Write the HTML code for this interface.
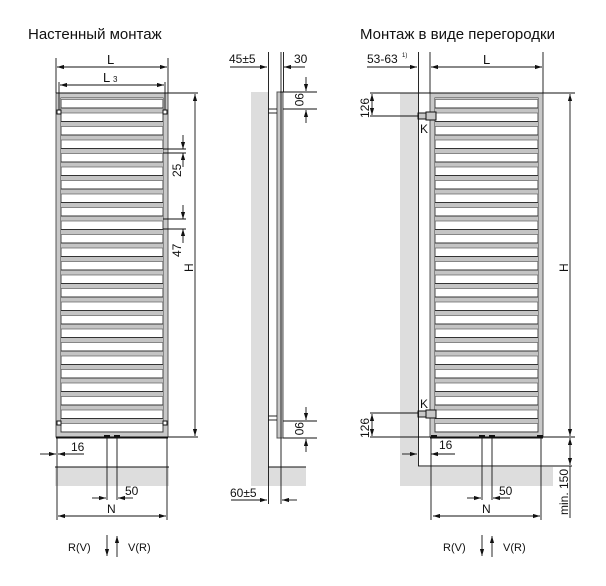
<!DOCTYPE html>
<html><head><meta charset="utf-8"><style>
body{margin:0;background:#fff}
svg{display:block}
text{font-family:"Liberation Sans",sans-serif;fill:#111}
</style></head><body>
<svg width="606" height="586" viewBox="0 0 606 586" xmlns="http://www.w3.org/2000/svg">
<defs>
<pattern id="barsL" patternUnits="userSpaceOnUse" x="0" y="104" width="606" height="13.5">
<rect x="0" y="4" width="606" height="5" fill="#c4c4c4"/>
<line x1="0" y1="4" x2="606" y2="4" stroke="#333" stroke-width="1"/>
<line x1="0" y1="9" x2="606" y2="9" stroke="#666" stroke-width="0.8"/>
</pattern>
<marker id="a" viewBox="0 0 10 6" refX="10" refY="3" markerWidth="8" markerHeight="5" orient="auto-start-reverse"><path d="M0,0L10,3L0,6z" fill="#111"/></marker>
</defs>
<text x="28" y="39" font-size="15">Настенный монтаж</text>
<text x="360" y="39" font-size="15">Монтаж в виде перегородки</text>

<!-- LEFT -->
<rect x="55" y="467" width="114" height="19" fill="#ddd"/>
<line x1="55" y1="467" x2="169" y2="467" stroke="#111"/>
<rect x="56" y="93" width="112" height="344" fill="#c8c8c8" stroke="#555"/>
<rect x="61" y="98" width="102" height="334" fill="#fff" stroke="#444"/>
<rect x="61" y="98" width="102" height="334" fill="url(#barsL)"/>
<rect x="57" y="110" width="4" height="4" fill="#fff" stroke="#111"/>
<rect x="163" y="110" width="4" height="4" fill="#fff" stroke="#111"/>
<rect x="57" y="421" width="4" height="4" fill="#fff" stroke="#111"/>
<rect x="163" y="421" width="4" height="4" fill="#fff" stroke="#111"/>
<line x1="56" y1="437.5" x2="168" y2="437.5" stroke="#111" stroke-width="2"/>
<g stroke="#111" stroke-width="0.9" fill="none">
<line x1="56" y1="58" x2="56" y2="93"/><line x1="168" y1="58" x2="168" y2="93"/>
<line x1="57" y1="67" x2="167" y2="67" marker-start="url(#a)" marker-end="url(#a)"/>
<line x1="59" y1="82" x2="59" y2="110"/><line x1="165" y1="82" x2="165" y2="110"/>
<line x1="60" y1="85" x2="164" y2="85" marker-start="url(#a)" marker-end="url(#a)"/>
<line x1="56" y1="93" x2="198" y2="93"/><line x1="168" y1="437" x2="198" y2="437"/>
<line x1="195" y1="94" x2="195" y2="436" marker-start="url(#a)" marker-end="url(#a)"/>
<line x1="163" y1="149" x2="186" y2="149"/><line x1="163" y1="153" x2="186" y2="153"/>
<line x1="183" y1="135" x2="183" y2="149" marker-end="url(#a)"/><line x1="183" y1="167" x2="183" y2="153" marker-end="url(#a)"/>
<line x1="163" y1="219" x2="186" y2="219"/><line x1="163" y1="229" x2="186" y2="229"/>
<line x1="183" y1="205" x2="183" y2="219" marker-end="url(#a)"/><line x1="183" y1="243" x2="183" y2="229" marker-end="url(#a)"/>
<line x1="57" y1="437" x2="57" y2="520"/><line x1="167" y1="437" x2="167" y2="520"/>
<line x1="107" y1="437" x2="107" y2="500"/><line x1="117" y1="437" x2="117" y2="500"/>
<line x1="40" y1="454" x2="56" y2="454" marker-end="url(#a)"/><line x1="84" y1="454" x2="58" y2="454" marker-end="url(#a)"/>
<line x1="92" y1="498" x2="106" y2="498" marker-end="url(#a)"/><line x1="133" y1="498" x2="118" y2="498" marker-end="url(#a)"/>
<line x1="58" y1="516" x2="166" y2="516" marker-start="url(#a)" marker-end="url(#a)"/>
<line x1="107" y1="535" x2="107" y2="556" marker-end="url(#a)"/><line x1="117" y1="557" x2="117" y2="536" marker-end="url(#a)"/>
</g>
<rect x="104" y="435" width="6" height="3" fill="#111"/><rect x="114" y="435" width="6" height="3" fill="#111"/>
<text x="107" y="64" font-size="13">L</text>
<text x="103" y="82" font-size="13">L</text><text x="113" y="82" font-size="8">3</text>
<text x="71" y="451" font-size="12">16</text>
<text x="125" y="495" font-size="12">50</text>
<text x="107" y="513" font-size="12">N</text>
<text x="68" y="551" font-size="11">R(V)</text><text x="128" y="551" font-size="11">V(R)</text>
<text transform="translate(181,177) rotate(-90)" font-size="12">25</text>
<text transform="translate(181,257) rotate(-90)" font-size="12">47</text>
<text transform="translate(193,272) rotate(-90)" font-size="12">H</text>

<!-- MIDDLE -->
<rect x="251" y="92" width="17" height="394" fill="#ddd"/>
<rect x="268" y="467" width="38" height="19" fill="#ddd"/>
<line x1="268" y1="467" x2="306" y2="467" stroke="#111"/>
<rect x="277" y="92" width="6" height="346" fill="#c8c8c8" stroke="#555"/>
<g stroke="#111" stroke-width="0.9" fill="none">
<line x1="268.5" y1="52" x2="268.5" y2="504"/><line x1="281" y1="52" x2="281" y2="504"/><line x1="283.5" y1="52" x2="283.5" y2="92"/>
<line x1="230" y1="67" x2="267" y2="67" marker-end="url(#a)"/><line x1="305" y1="67" x2="284" y2="67" marker-end="url(#a)"/>
<line x1="268" y1="109" x2="277" y2="109"/><line x1="268" y1="113" x2="277" y2="113"/>
<line x1="268" y1="416" x2="277" y2="416"/><line x1="268" y1="420" x2="277" y2="420"/>
<line x1="280" y1="92" x2="317" y2="92"/><line x1="283" y1="109" x2="317" y2="109"/>
<line x1="306" y1="77" x2="306" y2="91" marker-end="url(#a)"/><line x1="306" y1="123" x2="306" y2="110" marker-end="url(#a)"/>
<line x1="283" y1="421" x2="317" y2="421"/><line x1="283" y1="438" x2="317" y2="438"/>
<line x1="306" y1="407" x2="306" y2="420" marker-end="url(#a)"/><line x1="306" y1="452" x2="306" y2="439" marker-end="url(#a)"/>
<line x1="231" y1="500" x2="267" y2="500" marker-end="url(#a)"/><line x1="297" y1="500" x2="282" y2="500" marker-end="url(#a)"/>
</g>
<text x="229" y="63" font-size="12">45±5</text>
<text x="294" y="63" font-size="12">30</text>
<text transform="translate(295,93) rotate(90)" font-size="12">90</text>
<text transform="translate(295,422) rotate(90)" font-size="12">90</text>
<text x="230" y="497" font-size="12">60±5</text>

<!-- RIGHT -->
<rect x="400" y="93" width="18" height="393" fill="#ddd"/>
<rect x="418" y="467" width="135" height="19" fill="#ddd"/>
<rect x="430" y="93" width="113" height="344" fill="#c8c8c8" stroke="#555"/>
<rect x="435" y="98" width="103" height="334" fill="#fff" stroke="#444"/>
<rect x="435" y="98" width="103" height="334" fill="url(#barsL)"/>
<rect x="418" y="113" width="8" height="6" fill="#c8c8c8" stroke="#111"/>
<rect x="426" y="112" width="10" height="8" fill="#c8c8c8" stroke="#111"/>
<rect x="418" y="411" width="8" height="6" fill="#c8c8c8" stroke="#111"/>
<rect x="426" y="410" width="10" height="8" fill="#c8c8c8" stroke="#111"/>
<line x1="430" y1="437.5" x2="543" y2="437.5" stroke="#111" stroke-width="2"/>
<g stroke="#111" stroke-width="0.9" fill="none">
<line x1="418.5" y1="52" x2="418.5" y2="466"/><line x1="430" y1="52" x2="430" y2="93"/><line x1="543" y1="52" x2="543" y2="93"/>
<line x1="418" y1="466" x2="572" y2="466"/>
<line x1="367" y1="67" x2="417" y2="67" marker-end="url(#a)"/>
<line x1="431" y1="67" x2="542" y2="67" marker-start="url(#a)" marker-end="url(#a)"/>
<line x1="370" y1="93" x2="575" y2="93"/><line x1="370" y1="116" x2="418" y2="116"/>
<line x1="372" y1="94" x2="372" y2="115" marker-start="url(#a)" marker-end="url(#a)"/>
<line x1="370" y1="413" x2="418" y2="413"/><line x1="370" y1="437" x2="575" y2="437"/>
<line x1="372" y1="414" x2="372" y2="436" marker-start="url(#a)" marker-end="url(#a)"/>
<line x1="570" y1="94" x2="570" y2="436" marker-start="url(#a)" marker-end="url(#a)"/>
<line x1="570" y1="438" x2="570" y2="465" marker-start="url(#a)" marker-end="url(#a)"/>
<line x1="570" y1="466" x2="570" y2="518"/>
<line x1="431" y1="437" x2="431" y2="520"/><line x1="541" y1="437" x2="541" y2="520"/>
<line x1="482" y1="437" x2="482" y2="500"/><line x1="492" y1="437" x2="492" y2="500"/>
<line x1="402" y1="454" x2="417" y2="454" marker-end="url(#a)"/><line x1="455" y1="454" x2="431" y2="454" marker-end="url(#a)"/>
<line x1="467" y1="498" x2="481" y2="498" marker-end="url(#a)"/><line x1="510" y1="498" x2="493" y2="498" marker-end="url(#a)"/>
<line x1="433" y1="516" x2="540" y2="516" marker-start="url(#a)" marker-end="url(#a)"/>
<line x1="482" y1="535" x2="482" y2="556" marker-end="url(#a)"/><line x1="492" y1="557" x2="492" y2="536" marker-end="url(#a)"/>
</g>
<rect x="479" y="435" width="6" height="3" fill="#111"/><rect x="489" y="435" width="6" height="3" fill="#111"/>
<rect x="431" y="435" width="6" height="3" fill="#111"/><rect x="537" y="435" width="6" height="3" fill="#111"/>
<text x="367" y="63" font-size="12">53-63</text><text x="402" y="57" font-size="6">1)</text>
<text x="483" y="64" font-size="13">L</text>
<text x="420" y="133" font-size="12">K</text>
<text x="420" y="408" font-size="12">K</text>
<text transform="translate(369,118) rotate(-90)" font-size="12">126</text>
<text transform="translate(369,438) rotate(-90)" font-size="12">126</text>
<text transform="translate(568,272) rotate(-90)" font-size="12">H</text>
<text transform="translate(568,515) rotate(-90)" font-size="12">min. 150</text>
<text x="439" y="449" font-size="12">16</text>
<text x="499" y="495" font-size="12">50</text>
<text x="482" y="513" font-size="12">N</text>
<text x="443" y="551" font-size="11">R(V)</text><text x="503" y="551" font-size="11">V(R)</text>
</svg>
</body></html>
